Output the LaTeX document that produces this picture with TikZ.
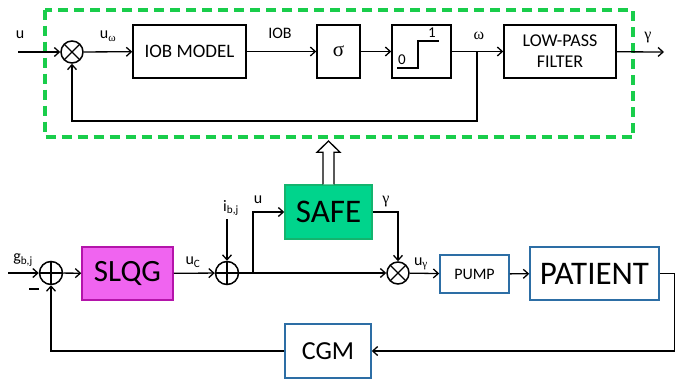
\documentclass[tikz,border=0pt]{standalone}
\usepackage{fontspec}
\setmainfont{Carlito}
\newfontfamily\grk{Liberation Serif}
\usetikzlibrary{arrows.meta}

\definecolor{dashgreen}{RGB}{25,205,75}
\definecolor{safegreen}{RGB}{0,212,140}
\definecolor{safeedge}{RGB}{20,180,110}
\definecolor{slqgpink}{RGB}{240,100,240}
\definecolor{slqgedge}{RGB}{180,20,170}
\definecolor{boxblue}{RGB}{45,110,165}

\begin{document}
\begin{tikzpicture}[x=1pt, y=-1pt, line width=1.3pt,
    >={Straight Barb[length=5pt,width=9pt]},
    block/.style={draw, line width=1.5pt, inner sep=0pt, minimum height=53pt,
        font=\fontsize{19}{20}\selectfont},
    blueblock/.style={block, draw=boxblue},
    lbl/.style={inner sep=0pt, font=\fontsize{16}{16}\selectfont},
    mult/.style={circle, draw, line width=1.5pt, minimum size=22pt, inner sep=0pt,
        path picture={\draw[line width=1.3pt] (path picture bounding box.north west) -- (path picture bounding box.south east)
            (path picture bounding box.north east) -- (path picture bounding box.south west);}},
    summ/.style={circle, draw, line width=1.5pt, minimum size=23pt, inner sep=0pt,
        path picture={\draw[line width=1.3pt] (path picture bounding box.north) -- (path picture bounding box.south)
            (path picture bounding box.west) -- (path picture bounding box.east);}}]
    \useasboundingbox (0,0) rectangle (682,380);

    % SAFE internals
    \draw[dashgreen, line width=4pt, dash pattern=on 10pt off 6pt] (45,9.5) rectangle (633,137);
    \node[mult] (mulA) at (72,52) {};
    \node[block, minimum width=113pt] (iob) at (189.5,51.5) {IOB MODEL};
    \node[block, minimum width=43pt] (sig) at (338.5,51.5) {\grk\fontsize{21}{21}\selectfont σ};
    \node[block, minimum width=59pt] (stp) at (421.5,51.5) {};
    \node[block, minimum width=112pt, align=center, font=\fontsize{18}{21}\selectfont] (lpf) at (560,51.5) {LOW-PASS\\FILTER};
    \coordinate (in) at (18,52);
    \coordinate (br) at (477,52);
    \coordinate (fb) at (477,121);
    \coordinate (out) at (664,52);

    % Step symbol
    \draw[line width=1.2pt] ([shift={(-24.5,16.5)}]stp.center) -- ++(21,0) -- ++(0,-27) -- ++(21,0);
    \node[lbl, font=\fontsize{15}{15}\selectfont] (zero) at ([shift={(-19.5,8)}]stp.center) {0};
    \node[lbl, font=\fontsize{15}{15}\selectfont] (one) at ([shift={(10.5,-18.5)}]stp.center) {1};

    \draw[->] (in) -- (mulA.west);
    \draw[->] (mulA) -- (iob);
    \draw[->] (iob) -- (sig);
    \draw[->] (sig) -- (stp);
    \draw[->] (stp) -- (lpf);
    \draw[->] (lpf) -- (out);
    \draw[->] (br) -- (fb) -| (mulA.south);

    \node[lbl] (uA) at (20,35) {u};
    \node[lbl] (uw) at (108,36) {u\textsubscript{\grk ω}};
    \node[lbl] (iobl) at (280,33) {IOB};
    \node[lbl] (wl) at (479,36) {\grk ω};
    \node[lbl] (gA) at (648,38) {\grk γ};

    % Control loop
    \node[summ] (sumA) at (51,273) {};
    \node[block, fill=slqgpink, draw=slqgedge, minimum width=91pt, font=\fontsize{31}{31}\selectfont] (slqg) at (127.5,273.5) {SLQG};
    \node[summ] (sumB) at (227,273) {};
    \node[block, fill=safegreen, draw=safeedge, minimum width=87pt, minimum height=54pt, font=\fontsize{33}{33}\selectfont] (safe) at (328.5,212) {SAFE};
    \node[mult] (mulB) at (398,273) {};
    \node[blueblock, minimum width=69pt, minimum height=38pt, font=\fontsize{16}{16}\selectfont] (pump) at (474.5,274) {PUMP};
    \node[blueblock, minimum width=129pt, font=\fontsize{33}{33}\selectfont] (pat) at (594.5,273.5) {PATIENT};
    \node[blueblock, minimum width=86pt, minimum height=54pt, font=\fontsize{26}{26}\selectfont] (cgm) at (328,351) {CGM};
    \coordinate (gin) at (8,273);
    \coordinate (brB) at (253,273);

    \draw[->] (gin) -- (sumA);
    \draw[->] (sumA) -- (slqg);
    \draw[->] (slqg) -- (sumB);
    \draw[->] (sumB) -- (mulB);
    \draw[->] (mulB) -- (pump);
    \draw[->] (pump) -- (pat);
    \draw[->] (brB) |- (safe.west);
    \draw[->] (safe.east) -| (mulB.north);
    \draw[->] (pat.east) -- ++(15,0) |- (cgm.east);
    \draw[->] (cgm.west) -| (sumA.south);

    % Hollow arrow to the box
    \draw[line width=1.3pt, fill=white] ([xshift=-5.5pt]safe.north) -- ++(0,-32) -- ++(-6,0) -- (328.5,141) -- ([shift={(11.5,-32)}]safe.north) -- ++(-6,0) -- ([xshift=5.5pt]safe.north);

    \node[lbl] (ib) at (231,208) {i\textsubscript{b,j}};
    \draw[->] (sumB.north |- 0,219) -- (sumB.north);
    \node[lbl] (gb) at (23,260) {g\textsubscript{b,j}};
    \node[inner sep=0pt] (minus) at (34,289) {\rule{10pt}{2pt}};
    \node[lbl] (uc) at (193,262) {u\textsubscript{C}};
    \node[lbl] (uB) at (258,200) {u};
    \node[lbl] (gB) at (386,202) {\grk γ};
    \node[lbl] (ug) at (421,264) {u\textsubscript{\grk γ}};
\end{tikzpicture}
\end{document}
